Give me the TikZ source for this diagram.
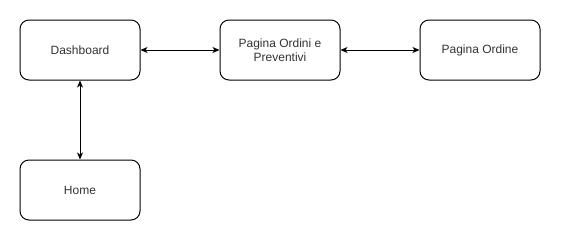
\documentclass[tikz,border=0pt]{standalone}
\usepackage{fontspec}
\setmainfont{Liberation Sans}
\usetikzlibrary{arrows.meta}
\begin{document}
\begin{tikzpicture}[x=1pt,y=-1pt,
  page/.style={draw=black,line width=1pt,rounded corners=9pt,minimum width=120pt,minimum height=60pt,
    inner sep=0pt,align=center,text=black!80,font=\fontsize{12}{14}\selectfont},
  link/.style={line width=1pt,{Stealth[length=7pt,width=6pt,inset=2pt]}-{Stealth[length=7pt,width=6pt,inset=2pt]}}]
  \useasboundingbox[fill=white] (0,0) rectangle (561,241);
  \node[page] (dash) at (80,50) {Dashboard};
  \node[page] (ordini) at (280,50) {Pagina Ordini e\\Preventivi};
  \node[page] (ordine) at (480,50) {Pagina Ordine};
  \node[page] (home) at (80,190) {Home};
  \draw[link] (dash) -- (ordini);
  \draw[link] (ordini) -- (ordine);
  \draw[link] (dash) -- (home);
\end{tikzpicture}
\end{document}
